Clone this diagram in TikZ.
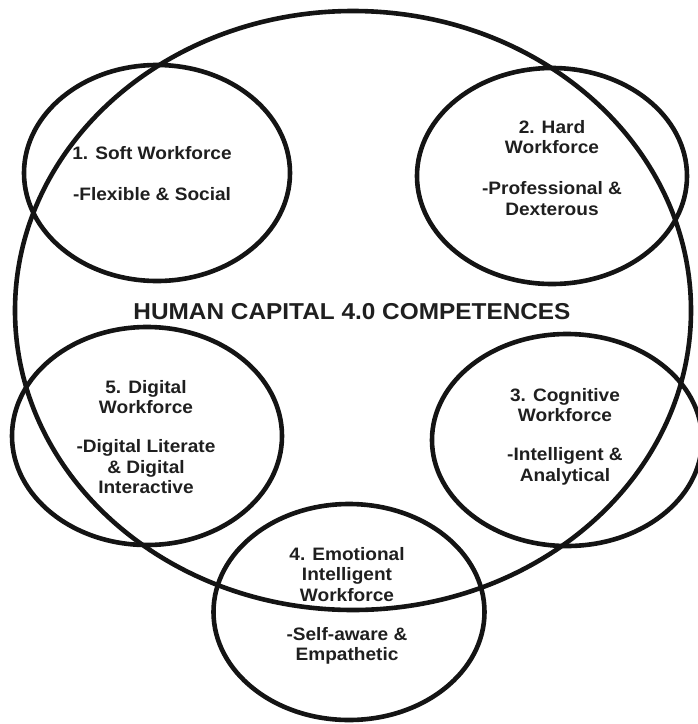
\documentclass[tikz,border=0pt]{standalone}
\usepackage{fontspec}
\setmainfont{Liberation Sans}[FakeStretch=1.06]
\begin{document}
\begin{tikzpicture}[x=1pt,y=-1pt,
  ring/.style={line width=4.6pt,draw=black!92},
  label/.style={font=\fontsize{18}{20.5}\selectfont\bfseries,align=center,
                inner sep=0pt,anchor=north,text=black!88},
  title/.style={font=\fontsize{23}{26}\selectfont\bfseries,inner sep=0pt,
                anchor=base,text=black!88}]
  \useasboundingbox (0,0) rectangle (698,724);
  % outer frame of all competences
  \draw[ring] (353,310.5) ellipse [x radius=338, y radius=299.5];
  % five workforce ellipses
  \draw[ring] (157,173) ellipse [x radius=133, y radius=108];
  \draw[ring] (552,176) ellipse [x radius=135, y radius=108];
  \draw[ring] (567,440) ellipse [x radius=135, y radius=106];
  \draw[ring] (349,612) ellipse [x radius=135.5, y radius=108];
  \draw[ring] (147,436) ellipse [x radius=135, y radius=109];
  % texts
  \node[title] (hc) at (352,319) {HUMAN CAPITAL 4.0 COMPETENCES};
  \node[label] (soft) at (152,146) {1. Soft Workforce\\[20.5pt]-Flexible \& Social};
  \node[label] (hard) at (552,120) {2. Hard\\Workforce\\[20.5pt]-Professional \&\\Dexterous};
  \node[label] (cog) at (565,388) {3. Cognitive\\Workforce\\[18.5pt]-Intelligent \&\\Analytical};
  \node[label] (emo) at (347,547) {4. Emotional\\Intelligent\\Workforce\\[18.5pt]-Self-aware \&\\Empathetic};
  \node[label] (dig) at (146,380) {5. Digital\\Workforce\\[18.5pt]-Digital Literate\\\& Digital\\Interactive};
\end{tikzpicture}
\end{document}
